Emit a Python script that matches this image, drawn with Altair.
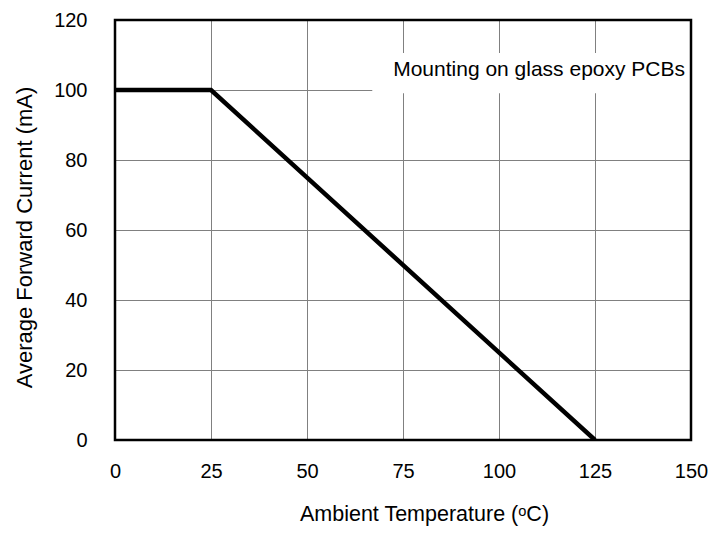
import altair as alt
import pandas as pd

# Data
temperature = [0, 25, 125]
current = [100, 100, 0]

x_ticks = [0, 25, 50, 75, 100, 125, 150]
y_ticks = [0, 20, 40, 60, 80, 100, 120]

note_text = ["Mounting on glass epoxy PCBs"]
note_x = [150]
note_y = [105.7]

box_x = [67]
box_x2 = [150]
box_y = [99.1]
box_y2 = [110.6]

FONT = "Liberation Sans"

line_df = pd.DataFrame({"t": temperature, "i": current})
note_df = pd.DataFrame({"t": note_x, "i": note_y, "label": note_text})
box_df = pd.DataFrame({"x": box_x, "x2": box_x2, "y": box_y, "y2": box_y2})
frame_df = pd.DataFrame({"x": [x_ticks[0]], "x2": [x_ticks[-1]], "y": [y_ticks[0]], "y2": [y_ticks[-1]]})

xscale = alt.Scale(domain=[0, 150], nice=False, zero=False)
yscale = alt.Scale(domain=[0, 120], nice=False, zero=False)

xaxis = alt.Axis(values=x_ticks, ticks=False, domain=False, grid=True, gridColor="#808080",
                 gridWidth=1, labelFontSize=20, labelFont=FONT, labelColor="#000000",
                 labelPadding=21, title="Ambient Temperature (ᵒC)", titleFont=FONT,
                 titleFontSize=21.5, titleFontWeight="normal", titleColor="#000000",
                 titlePadding=22, labelFlush=False, titleX=309, titleAlign="center")
yaxis = alt.Axis(values=y_ticks, ticks=False, domain=False, grid=True, gridColor="#808080",
                 gridWidth=1, labelFontSize=20, labelFont=FONT, labelColor="#000000",
                 labelPadding=28, title="Average Forward Current (mA)", titleFont=FONT,
                 titleFontSize=22, titleFontWeight="normal", titleColor="#000000",
                 titlePadding=17, labelFlush=False, titleY=217, titleAlign="center")

base_line = alt.Chart(line_df).mark_line(color="#000000", strokeWidth=4.5, clip=True).encode(
    x=alt.X("t:Q", scale=xscale, axis=xaxis),
    y=alt.Y("i:Q", scale=yscale, axis=yaxis),
)

box = alt.Chart(box_df).mark_rect(fill="#ffffff", stroke=None).encode(
    x=alt.X("x:Q", scale=xscale), x2="x2:Q",
    y=alt.Y("y:Q", scale=yscale), y2="y2:Q",
)

note = alt.Chart(note_df).mark_text(align="right", baseline="middle", dx=-6,
                                    font=FONT, fontSize=21, color="#000000").encode(
    x=alt.X("t:Q", scale=xscale), y=alt.Y("i:Q", scale=yscale), text="label:N"
)

frame = alt.Chart(frame_df).mark_rect(fill=None, stroke="#000000", strokeWidth=2.5).encode(
    x=alt.X("x:Q", scale=xscale), x2="x2:Q",
    y=alt.Y("y:Q", scale=yscale), y2="y2:Q",
)

chart = alt.layer(box, frame, base_line, note).properties(
    width=576, height=420,
    autosize=alt.AutoSizeParams(type="none"),
    padding={"left": 107, "top": 12, "right": 20, "bottom": 87},
).configure_view(stroke=None).configure(background="#ffffff")

chart.save("out.html", embed_options={"renderer": "svg", "actions": False})
